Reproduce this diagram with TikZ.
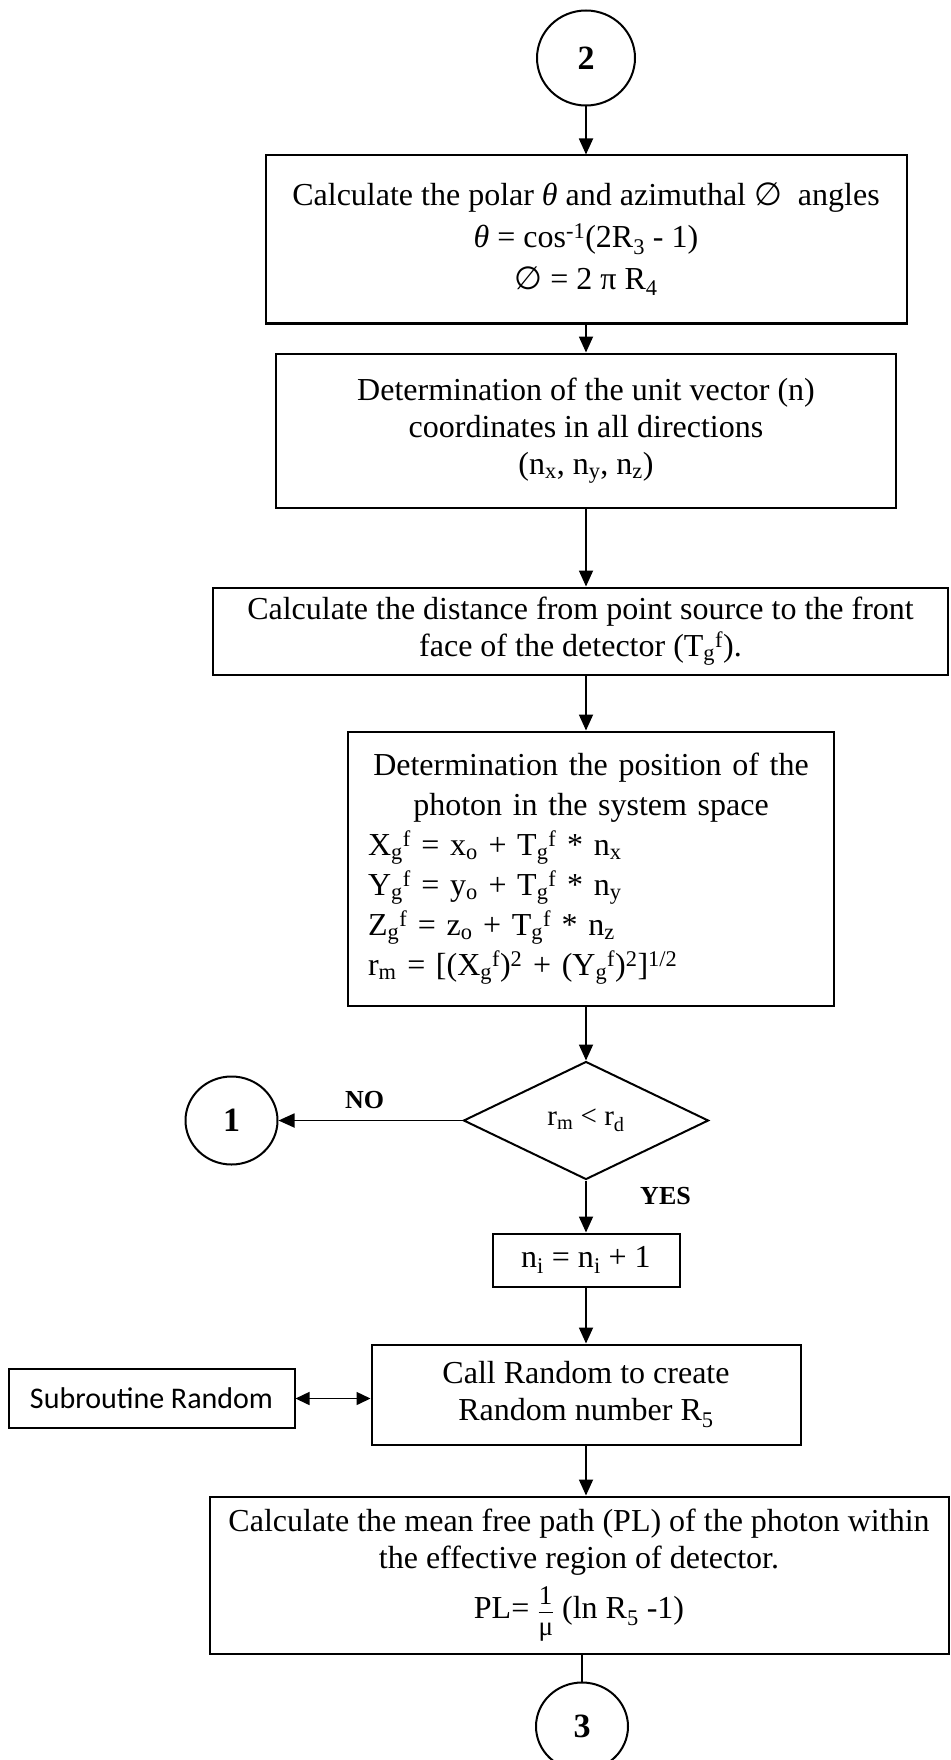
\documentclass[tikz,border=0pt]{standalone}
\usepackage{fontspec}
\usepackage{amsmath}
\setmainfont{Liberation Serif}
\newfontfamily\subfont{Carlito}
\newfontfamily\symfont{DejaVu Sans}
\usetikzlibrary{shapes.geometric, arrows.meta, positioning}
\newcommand{\eset}{{\symfont ∅}}
\newcommand{\fracpart}[1]{\mbox{\fontsize{27}{27}\selectfont #1}}

\begin{document}
\begin{tikzpicture}[
    x=1pt, y=1pt,
    node distance=50pt,
    font=\fontsize{32}{37}\selectfont,
    procbox/.style={rectangle, draw, line width=2pt, inner sep=0pt, align=center},
    connector/.style={ellipse, draw, line width=2pt, inner sep=0pt, minimum width=92pt, minimum height=88pt, font=\fontsize{34}{40}\selectfont\bfseries},
    decision/.style={diamond, draw, line width=2pt, inner sep=0pt, minimum width=245pt, minimum height=118pt},
    flow/.style={-{Triangle[length=16pt,width=14pt]}, line width=1.8pt},
    answer/.style={font=\fontsize{26}{30}\selectfont\bfseries}
]
\useasboundingbox (0,0) rectangle (950,-1760);

\node[connector, minimum width=98pt, minimum height=95pt] (c2) at (586,-58) {2};
\node[procbox, below=48pt of c2, minimum width=641pt, minimum height=168pt, font=\fontsize{32}{42}\selectfont] (b1) {Calculate the polar \textit{θ} and azimuthal \eset\ \ angles\\
\textit{θ} = cos\textsuperscript{-1}(2R\textsubscript{3} - 1)\\
\eset\ = 2 π R\textsubscript{4}};
\node[procbox, below=28pt of b1, minimum width=620pt, minimum height=154pt] (b2) {Determination of the unit vector (n)\\
coordinates in all directions\\
(n\textsubscript{x}, n\textsubscript{y}, n\textsubscript{z})};
\node[procbox, below=78pt of b2, xshift=-5.5pt, minimum width=735pt, minimum height=87pt] (b3) {Calculate the distance from point source to the front\\
face of the detector (T\textsubscript{g}\textsuperscript{f}).};
\node[procbox, below=55pt of b3, xshift=10.5pt, minimum width=486pt, minimum height=274pt, text width=446pt, inner xsep=20pt, align=left, font=\fontsize{32}{40}\selectfont] (b4) {\makebox[446pt]{Determination the position of the}\\
\makebox[446pt]{photon in the system space}\\
X\textsubscript{g}\textsuperscript{f} = x\textsubscript{o} + T\textsubscript{g}\textsuperscript{f} * n\textsubscript{x}\\
Y\textsubscript{g}\textsuperscript{f} = y\textsubscript{o} + T\textsubscript{g}\textsuperscript{f} * n\textsubscript{y}\\
Z\textsubscript{g}\textsuperscript{f} = z\textsubscript{o} + T\textsubscript{g}\textsuperscript{f} * n\textsubscript{z}\\
r\textsubscript{m} = [(X\textsubscript{g}\textsuperscript{f})\textsuperscript{2} + (Y\textsubscript{g}\textsuperscript{f})\textsuperscript{2}]\textsuperscript{1/2}};
\node[decision, below=54pt of b4, xshift=-5pt, font=\fontsize{29}{34}\selectfont] (dec) {r\textsubscript{m} < r\textsubscript{d}};
\node[connector, left=184pt of dec] (c1) {1};
\node[procbox, below=52pt of dec, minimum width=187pt, minimum height=53pt] (ni) {n\textsubscript{i} = n\textsubscript{i} + 1};
\node[procbox, below=56pt of ni, minimum width=429pt, minimum height=100pt] (call) {Call Random to create\\
Random number R\textsubscript{5}};
\node[procbox, left=75pt of call, yshift=-4pt, minimum width=286pt, minimum height=59pt, font=\subfont\fontsize{30}{36}\selectfont] (sub) {Subroutine Random};
\node[procbox, below=50pt of call, xshift=-7pt, minimum width=739pt, minimum height=157pt] (pl) {Calculate the mean free path (PL) of the photon within\\
the effective region of detector.\\[10pt]
PL= $\frac{\fracpart{1}\rule[-7pt]{0pt}{7pt}}{\rule{0pt}{21pt}\fracpart{μ}}$ (ln R\textsubscript{5} -1)};
\node[connector, below=27pt of pl, xshift=3pt] (c3) {3};

\draw[flow] (c2) -- (b1);
\draw[flow] (b1) -- (b2);
\draw[flow] (b2.south) -- (b2.south |- b3.north);
\draw[flow] (b3.south -| b2.south) -- (b4.north -| b2.south);
\draw[flow] (b4.south -| dec) -- (dec.north);
\draw[flow] (dec.west) -- (c1.east) node[answer, midway, above=8pt, xshift=-6pt] (no) {NO};
\draw[flow] (dec.south) -- (ni.north) node[answer, midway, right=50pt, yshift=10pt] (yes) {YES};
\draw[flow] (ni) -- (call);
\draw[{Triangle[length=14pt,width=13pt]}-{Triangle[length=14pt,width=13pt]}, line width=1.5pt] (sub.east) -- (sub.east -| call.west);
\draw[flow] (call.south) -- (call.south |- pl.north);
\draw[line width=1.8pt] (c3.north |- pl.south) -- (c3.north);

\end{tikzpicture}
\end{document}
